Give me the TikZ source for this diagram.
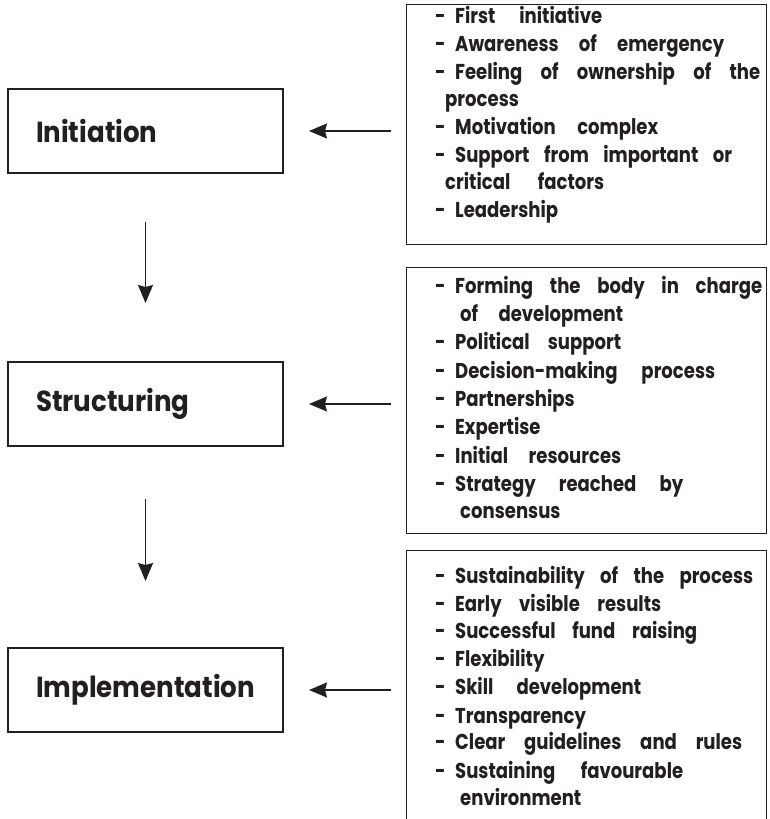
\documentclass[tikz,border=0pt]{standalone}
\usepackage{fontspec}
\setmainfont{Poppins}
\newfontfamily\reffont{Poppins}[FakeStretch=0.9]
\newfontfamily\listfont{Poppins}[FakeStretch=0.84]
\usetikzlibrary{arrows.meta}
\definecolor{ink}{RGB}{35,31,32}
\newcommand\jl[2]{\makebox[#1pt][s]{#2}}
\newcommand\dsh{\makebox[20pt][l]{-}}
\begin{document}
\begin{tikzpicture}[x=1pt,y=-1pt,
  every node/.style={text=ink},
  stage/.style={draw=ink, line width=2pt, anchor=north west, minimum height=84pt,
    text width=219pt, inner xsep=28pt, inner ysep=0pt, align=left,
    font=\reffont\bfseries\fontsize{29}{34}\selectfont},
  listbox/.style={draw=ink, line width=1.3pt, anchor=north west, minimum width=360pt, inner sep=0pt},
  item/.style={anchor=mid west, inner sep=0pt, yshift=-4pt, font=\listfont\bfseries\fontsize{21.5}{24}\selectfont},
  arr/.style={draw=ink, line width=1.3pt, -{Stealth[length=18pt, width=15pt, inset=2pt]}}
]
\clip (0,0) rectangle (770,819);
\fill[white] (0,0) rectangle (770,819);

% stage boxes
\node[stage] (init) at (7,88) {Initiation};
\node[stage] (struct) at (7,361) {Structuring};
\node[stage] (impl) at (7,647) {Implementation};

% factor boxes
\node[listbox, minimum height=240pt] (f1) at (406,4) {};
\node[listbox, minimum height=266pt] (f2) at (406,267) {};
\node[listbox, minimum height=300pt] (f3) at (406,550) {};

% box 1 items
\node[item] (a1) at (435,17)  {\dsh\jl{147}{First initiative}};
\node[item] (a2) at (435,45)  {\dsh\jl{269}{Awareness of emergency}};
\node[item] (a3) at (435,73)  {\dsh\jl{305}{Feeling of ownership of the}};
\node[item] (a4) at (445,100) {process};
\node[item] (a5) at (435,128) {\dsh\jl{203}{Motivation complex}};
\node[item] (a6) at (435,156) {\dsh\jl{277}{Support from important or}};
\node[item] (a7) at (445,183) {\jl{159}{critical factors}};
\node[item] (a8) at (435,211) {\dsh Leadership};

% box 2 items
\node[item] (b1) at (435,287) {\dsh\jl{307}{Forming the body in charge}};
\node[item] (b2) at (460,315) {\jl{163}{of development}};
\node[item] (b3) at (435,343) {\dsh\jl{166}{Political support}};
\node[item] (b4) at (435,372) {\dsh\jl{260}{Decision-making process}};
\node[item] (b5) at (435,400) {\dsh Partnerships};
\node[item] (b6) at (435,428) {\dsh Expertise};
\node[item] (b7) at (435,457) {\dsh\jl{166}{Initial resources}};
\node[item] (b8) at (435,485) {\dsh\jl{228}{Strategy reached by}};
\node[item] (b9) at (460,512) {consensus};

% box 3 items
\node[item] (c1) at (435,577) {\dsh\jl{298}{Sustainability of the process}};
\node[item] (c2) at (435,605) {\dsh\jl{206}{Early visible results}};
\node[item] (c3) at (435,632) {\dsh\jl{242}{Successful fund raising}};
\node[item] (c4) at (435,660) {\dsh Flexibility};
\node[item] (c5) at (435,688) {\dsh\jl{186}{Skill development}};
\node[item] (c6) at (435,717) {\dsh Transparency};
\node[item] (c7) at (435,743) {\dsh\jl{287}{Clear guidelines and rules}};
\node[item] (c8) at (435,772) {\dsh\jl{228}{Sustaining favourable}};
\node[item] (c9) at (460,799) {environment};

% arrows from factor boxes to stages
\draw[arr, shorten <=15pt, shorten >=25pt] (init.east -| f1.west) -- (init.east);
\draw[arr, shorten <=15pt, shorten >=25pt] (struct.east -| f2.west) -- (struct.east);
\draw[arr, shorten <=15pt, shorten >=25pt] (impl.east -| f3.west) -- (impl.east);

% arrows between stages
\draw[arr, shorten <=48pt, shorten >=58pt] (init.south) -- (struct.north);
\draw[arr, shorten <=52pt, shorten >=66pt] (struct.south) -- (impl.north);
\end{tikzpicture}
\end{document}
